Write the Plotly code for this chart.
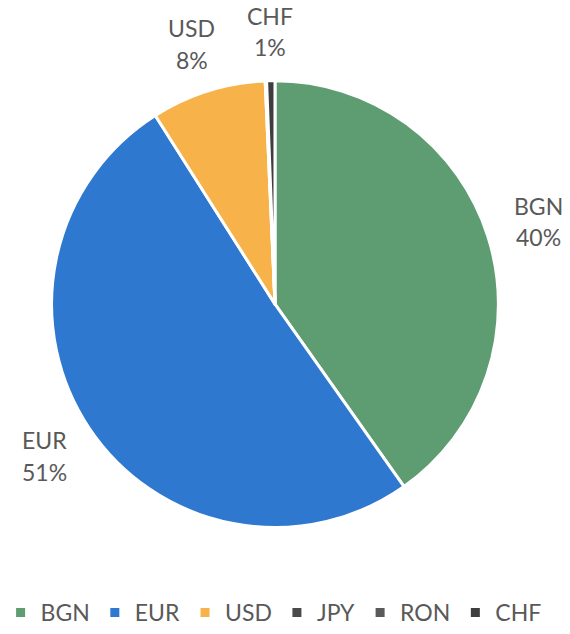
import math
import plotly.graph_objects as go

currencies = ["BGN", "EUR", "USD", "JPY", "RON", "CHF"]
shares = [40.2, 50.8, 8.3, 0.05, 0.05, 0.6]
colors = ["#5E9C72", "#2F78D0", "#F7B24A", "#4A4A4A", "#5A5A5A", "#3E3E3E"]
shown = [True, True, True, False, False, True]

W, H = 570, 634
CX, CY, R = 275, 309, 227  # pie centre / radius in pixels
LABEL_K = 1.22
FONT = "Lato, Open Sans, sans-serif"
TXT = "#595959"

fig = go.Figure(go.Pie(
    labels=currencies,
    values=shares,
    sort=False,
    direction="clockwise",
    rotation=0,
    marker=dict(colors=colors, line=dict(color="white", width=3)),
    textinfo="none",
    automargin=False,
    domain=dict(x=[(CX - R) / W, (CX + R) / W],
                y=[1 - (CY + R) / H, 1 - (CY - R) / H]),
    hoverinfo="label+percent",
))

# data labels placed outside each slice at its mid-angle (derived from the values)
total = sum(shares)
cum = 0.0
for name, v, s in zip(currencies, shares, shown):
    mid = (cum + v / 2) / total * 2 * math.pi
    cum += v
    if not s:
        continue
    px = CX + LABEL_K * R * math.sin(mid)
    py = CY - LABEL_K * R * math.cos(mid)
    pct = f"{round(v / total * 100):.0f}%"
    for txt, dy in ((name, -16), (pct, 16)):
        fig.add_annotation(
            x=px / W, y=1 - (py + dy) / H, xref="paper", yref="paper",
            text=txt, showarrow=False, xanchor="center", yanchor="middle",
            font=dict(family=FONT, size=23, color=TXT),
        )

fig.update_layout(
    width=W, height=H,
    margin=dict(l=0, r=0, t=0, b=0),
    paper_bgcolor="white",
    plot_bgcolor="white",
    showlegend=True,
    legend=dict(
        orientation="h", x=0.48, xanchor="center", y=0.018, yanchor="middle",
        font=dict(family=FONT, size=23, color=TXT),
        itemwidth=30, tracegroupgap=0,
    ),
)

fig.write_html("out.html", config={"displayModeBar": False},
               post_script="document.body.style.margin='0px';")
